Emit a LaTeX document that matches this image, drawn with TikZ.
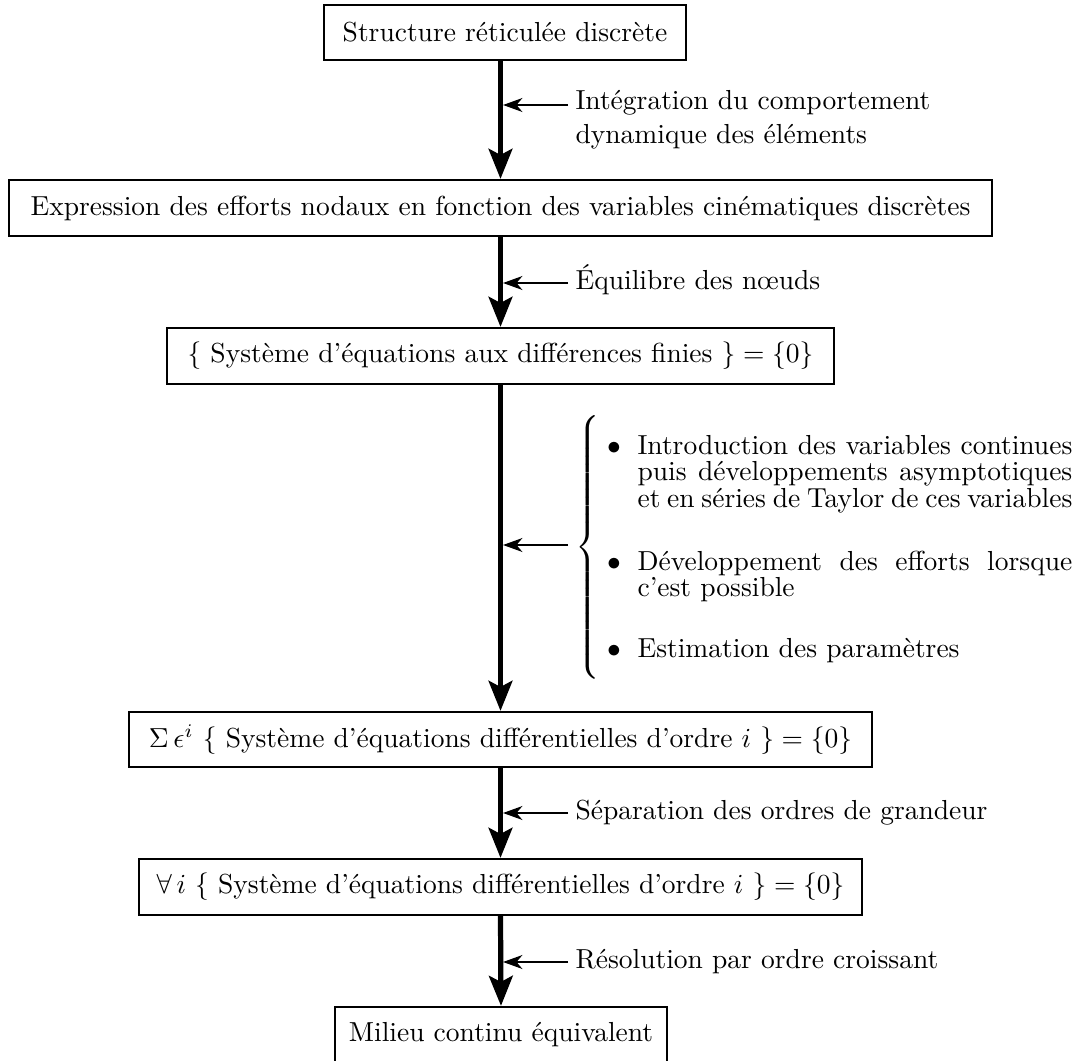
\documentclass[tikz,border=0pt]{standalone}
\usepackage{fontspec}
\usetikzlibrary{arrows.meta}
\def\u{0.3634pt}
\begin{document}
\begin{tikzpicture}[x=0.3634pt,y=-0.3634pt,
  box/.style={draw,line width=0.8pt,inner sep=0pt,align=center},
  flow/.style={line width=1.9pt,-{Stealth[length=10.9pt,width=8.6pt,inset=2.2pt]}},
  feed/.style={line width=0.95pt,-{Stealth[length=7pt,width=5pt,inset=2.1pt]}},
  lbl/.style={inner sep=0pt,anchor=base west,align=left},
  itemtext/.style={inner sep=0pt,anchor=base west,text width=158pt,align=justify},
  bul/.style={inner sep=0pt,anchor=base}]
\useasboundingbox (0,0) rectangle (1074,1061);
% boxes
\node[box,minimum width=362*\u,minimum height=55*\u] (b1) at (505,32.5) {Structure réticulée discrète};
\node[box,minimum width=983*\u,minimum height=56*\u] (b2) at (500.5,208) {Expression des efforts nodaux en fonction des variables cinématiques discrètes};
\node[box,minimum width=667*\u,minimum height=56*\u] (b3) at (500.5,356) {$\{$ Système d'équations aux différences finies $\} = \{0\}$};
\node[box,minimum width=743*\u,minimum height=55*\u] (b4) at (500.5,739.5) {$\Sigma\,\epsilon^i$ $\{$ Système d'équations différentielles d'ordre $i$ $\} = \{0\}$};
\node[box,minimum width=723*\u,minimum height=56*\u] (b5) at (500.5,887) {$\forall\, i$ $\{$ Système d'équations différentielles d'ordre $i$ $\} = \{0\}$};
\node[box,minimum width=332*\u,minimum height=56*\u] (b6) at (501,1035) {Milieu continu équivalent};
% main flow
\draw[flow] (b2.north |- b1.south) -- (b2.north);
\draw[flow] (b2.south) -- (b3.north);
\draw[flow] (b3.south) -- (b4.north);
\draw[flow] (b4.south) -- (b5.north);
\draw[flow] (b5.south) -- (b6.north);
% side labels
\coordinate (s1) at (568,105);
\coordinate (s2) at (568,283);
\coordinate (s3) at (568,545);
\coordinate (s4) at (568,813);
\coordinate (s5) at (568,962);
\draw[feed] (s1) -- ([xshift=2.5*\u]s1 -| b2.north);
\draw[feed] (s2) -- ([xshift=2.5*\u]s2 -| b2.north);
\draw[feed] (s3) -- ([xshift=2.5*\u]s3 -| b2.north);
\draw[feed] (s4) -- ([xshift=2.5*\u]s4 -| b2.north);
\draw[feed] (s5) -- ([xshift=2.5*\u]s5 -| b2.north);
\node[lbl] (l1) at (575,143) {Intégration du comportement\\dynamique des éléments};
\node[lbl] (l2) at (575,289) {Équilibre des nœuds};
\node[lbl] (l4) at (575,819) {Séparation des ordres de grandeur};
\node[lbl] (l5) at (575,968) {Résolution par ordre croissant};
% brace and list
\node[inner sep=0pt,anchor=west] (br) at (575,547.5) {$\left\{\vcenter{\hbox{\rule{0pt}{99pt}}}\right.$};
\node[bul] (u1) at (614,454) {$\bullet$};
\node[bul] (u2) at (614,570) {$\bullet$};
\node[bul] (u3) at (614,657) {$\bullet$};
\node[itemtext] (t1) at (637,454) {\baselineskip=9.8pt Introduction des variables continues\linebreak puis développements asymptotiques\linebreak et en séries de Taylor de ces variables\par};
\node[itemtext] (t2) at (637,570) {\baselineskip=9.8pt Développement des efforts lorsque\linebreak c'est possible\par};
\node[itemtext] (t3) at (637,657) {\baselineskip=9.8pt Estimation des paramètres\par};
\end{tikzpicture}
\end{document}
